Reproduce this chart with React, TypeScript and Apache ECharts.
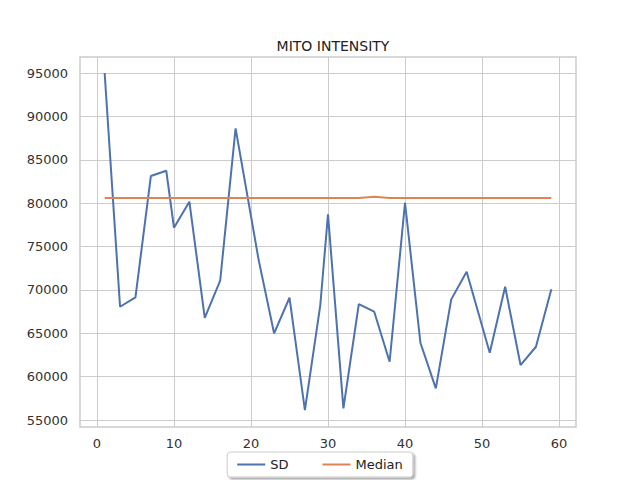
import React, { useEffect, useRef } from 'react';
import * as echarts from 'echarts';

const xValues = [1, 3, 5, 7, 9, 10, 12, 14, 16, 18, 21, 23, 25, 27, 29, 30, 32, 34, 36, 38, 40, 42, 44, 46, 48, 51, 53, 55, 57, 59];
const sdValues = [95000, 68060, 69140, 83130, 83740, 77170, 80170, 66790, 71060, 88620, 73440, 65000, 69100, 56150, 68260, 78710, 56350, 68370, 67490, 61720, 80050, 63910, 58650, 68910, 72100, 62760, 70370, 61340, 63450, 70070];
const medianValues = [80600, 80600, 80600, 80600, 80600, 80600, 80600, 80600, 80600, 80600, 80600, 80600, 80600, 80600, 80600, 80600, 80600, 80600, 80740, 80600, 80600, 80600, 80600, 80600, 80600, 80600, 80600, 80600, 80600, 80600];
const xTicks = [0, 10, 20, 30, 40, 50, 60];
const yTicks = [55000, 60000, 65000, 70000, 75000, 80000, 85000, 90000, 95000];

const font = 'DejaVu Sans';

const App = () => {
  const chartRef = useRef(null);

  useEffect(() => {
    const chart = echarts.init(chartRef.current, null, { renderer: 'svg' });
    chart.setOption({
      animation: false,
      textStyle: { fontFamily: font },
      title: {
        text: 'MITO INTENSITY',
        left: 328,
        top: 34,
        textAlign: 'center',
        textStyle: { fontSize: 14, fontWeight: 'normal', color: '#222', fontFamily: font },
      },
      grid: {
        left: 80, right: 64, top: 57, bottom: 53,
        show: true, borderColor: '#ccc', borderWidth: 1.5, backgroundColor: 'transparent',
      },
      legend: {
        bottom: 3,
        left: 'center',
        itemWidth: 28,
        itemHeight: 2,
        itemGap: 34,
        padding: [6, 10],
        borderColor: '#ccc',
        borderWidth: 1,
        borderRadius: 3,
        backgroundColor: '#fff',
        shadowColor: 'rgba(0,0,0,0.35)',
        shadowBlur: 2,
        shadowOffsetX: 2,
        shadowOffsetY: 2,
        textStyle: { fontSize: 13, color: '#222', fontFamily: font },
        data: [
          { name: 'SD', icon: 'rect' },
          { name: 'Median', icon: 'rect' },
        ],
      },
      xAxis: {
        type: 'value',
        min: -2.2,
        max: 62.2,
        axisLine: { show: false },
        axisTick: { show: false, customValues: xTicks },
        axisLabel: { customValues: xTicks, color: '#333', fontSize: 13, margin: 10 },
        splitLine: { show: true, lineStyle: { color: '#ccc', width: 1 } },
      },
      yAxis: {
        type: 'value',
        min: 54200,
        max: 96850,
        axisLine: { show: false },
        axisTick: { show: false, customValues: yTicks },
        axisLabel: { customValues: yTicks, color: '#333', fontSize: 13, margin: 12, formatter: (v: number) => String(v) },
        splitLine: { show: true, lineStyle: { color: '#ccc', width: 1 } },
      },
      series: [
        {
          name: 'SD',
          type: 'line',
          data: xValues.map((x, i) => [x, sdValues[i]]),
          showSymbol: false,
          lineStyle: { color: '#4c72b0', width: 2 },
          itemStyle: { color: '#4c72b0' },
        },
        {
          name: 'Median',
          type: 'line',
          data: xValues.map((x, i) => [x, medianValues[i]]),
          showSymbol: false,
          lineStyle: { color: '#dd8452', width: 2 },
          itemStyle: { color: '#dd8452' },
        },
      ],
    });
    return () => {
      chart.dispose();
    };
  }, []);

  return (
    <div
      ref={chartRef}
      style={{ position: 'fixed', left: 0, top: 0, width: '640px', height: '480px', background: '#fff' }}
    ></div>
  );
};

export default App;
